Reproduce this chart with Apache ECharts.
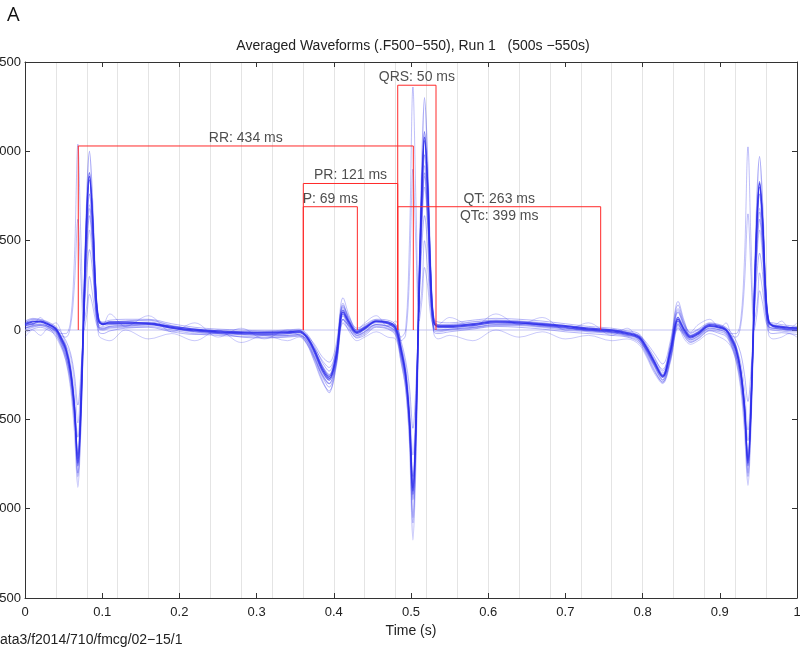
<!DOCTYPE html>
<html><head><meta charset="utf-8">
<script src="https://cdn.jsdelivr.net/npm/echarts@6/dist/echarts.min.js"></script>
<style>html,body{margin:0;padding:0;background:#fff}#c{width:800px;height:648px}</style>
</head><body><div id="c"></div>
<script>
// time samples (s)
const tKey = [
  0, 0.01, 0.02, 0.03, 0.04,
  0.046, 0.053, 0.059, 0.064, 0.0685, 0.0725, 0.0765, 0.0805, 0.0835, 0.0875, 0.0915, 0.0955, 0.101,
  0.11, 0.13, 0.16, 0.19, 0.22, 0.25, 0.28, 0.31, 0.34, 0.355,
  0.365, 0.375, 0.385, 0.394, 0.403, 0.412, 0.42, 0.43, 0.44, 0.455, 0.47,
  0.48, 0.487, 0.493, 0.498, 0.5025, 0.5065, 0.5105, 0.5145, 0.5175, 0.5215, 0.5255, 0.5295, 0.535,
  0.55, 0.58, 0.61, 0.64, 0.67, 0.70, 0.73, 0.76, 0.78,
  0.795, 0.805, 0.815, 0.826, 0.836, 0.846, 0.854, 0.862, 0.872, 0.887, 0.90, 0.908,
  0.914, 0.921, 0.927, 0.932, 0.9365, 0.9405, 0.9445, 0.9485, 0.9515, 0.9555, 0.9595, 0.9635, 0.969,
  0.98, 0.99, 1.0
];
// channel waveforms (fT)
const M1 = [
  30, 45, 50, 35, 5,
  -40, -110, -230, -430, -745, -420, 180, 700, 860, 620, 220, 50, 35,
  40, 40, 40, 15, 0, -10, -15, -18, -15, -10,
  -40, -120, -220, -270, -150, 100, 40, -15, 10, 50, 40,
  10, -110, -250, -500, -900, -500, 250, 850, 1080, 800, 300, 40, 20,
  20, 30, 45, 40, 30, 20, 5, -5, -20,
  -40, -100, -180, -260, -120, 60, 0, -40, -20, 25, 15, 0,
  -40, -110, -230, -430, -745, -420, 160, 650, 820, 600, 200, 40, 25,
  15, 10, 10
];
const M2 = [
  10, 25, 30, 20, -10,
  -60, -140, -270, -480, -700, -380, 150, 600, 760, 560, 180, 20, 10,
  20, 25, 30, 10, -10, -20, -25, -30, -30, -25,
  -60, -150, -250, -300, -180, 60, 20, -30, -10, 30, 20,
  -10, -140, -280, -540, -950, -560, 200, 760, 980, 720, 240, 10, 0,
  5, 15, 30, 30, 20, 10, -5, -15, -30,
  -50, -120, -200, -280, -150, 30, -20, -55, -35, 10, 0, -15,
  -60, -140, -270, -480, -720, -400, 120, 600, 760, 540, 170, 20, 10,
  5, 0, 0
];
const M3 = [
  40, 60, 55, 40, 10,
  -30, -90, -200, -400, -820, -500, 200, 800, 1000, 720, 260, 60, 40,
  45, 50, 55, 25, 5, -5, -10, -15, -10, -5,
  -30, -110, -200, -250, -130, 130, 60, -5, 20, 55, 45,
  20, -90, -230, -520, -1050, -600, 300, 1000, 1300, 950, 350, 60, 30,
  30, 45, 55, 50, 40, 25, 10, 0, -15,
  -30, -90, -170, -250, -100, 100, 20, -30, -10, 35, 25, 5,
  -30, -90, -220, -420, -800, -480, 200, 780, 970, 700, 240, 50, 30,
  20, 15, 15
];
const M4 = [
  0, 15, 25, 10, -20,
  -70, -170, -320, -560, -880, -520, 100, 560, 700, 500, 150, 10, 0,
  10, 15, 20, 0, -20, -30, -35, -40, -35, -30,
  -70, -170, -280, -350, -200, 40, 0, -40, -20, 20, 10,
  -20, -170, -320, -620, -1175, -700, 150, 650, 860, 620, 200, 0, -10,
  0, 10, 25, 25, 15, 0, -10, -20, -35,
  -60, -130, -220, -295, -170, 10, -30, -65, -45, 0, -10, -25,
  -70, -170, -320, -560, -870, -520, 80, 540, 680, 480, 140, 10, 0,
  -5, -10, -10
];
const M5 = [
  25, 35, 45, 30, 0,
  -50, -120, -240, -450, -760, -460, 120, 660, 840, 640, 240, 60, 30,
  35, 35, 35, 10, -5, -15, -20, -25, -20, -15,
  -45, -130, -230, -280, -160, 90, 30, -20, 5, 45, 35,
  0, -120, -260, -520, -920, -540, 220, 820, 1060, 820, 320, 50, 15,
  15, 25, 40, 38, 28, 15, 0, -10, -25,
  -45, -110, -190, -265, -130, 50, -10, -45, -25, 20, 10, -5,
  -50, -120, -240, -450, -760, -440, 140, 630, 800, 610, 220, 45, 20,
  10, 5, 5
];
const M6 = [
  35, 50, 45, 30, 10,
  -35, -100, -220, -420, -720, -400, 200, 720, 880, 650, 230, 50, 30,
  45, 45, 35, 20, 5, -5, -10, -12, -10, -5,
  -35, -110, -210, -260, -140, 110, 45, -10, 15, 50, 45,
  15, -100, -240, -480, -880, -480, 280, 880, 1110, 830, 310, 50, 25,
  25, 35, 50, 45, 35, 25, 10, 0, -15,
  -35, -95, -175, -255, -115, 70, 5, -35, -15, 30, 20, 5,
  -35, -100, -220, -420, -730, -400, 180, 670, 830, 620, 210, 45, 25,
  20, 15, 10
];
const I1 = [
  20, 30, 35, 20, 0,
  -20, -20, 50, 400, 1040, 500, 50, 150, 300, 200, 80, 30, 20,
  30, 35, 45, 20, 0, -10, -15, -10, -5, 0,
  -30, -80, -150, -180, -80, 180, 80, 0, 15, 40, 35,
  30, -40, 0, 500, 1360, 700, 100, 250, 500, 350, 120, 40, 20,
  25, 35, 50, 45, 35, 20, 5, 0, -10,
  -30, -70, -130, -190, -60, 160, 50, -20, 0, 30, 25, 10,
  -20, -20, 50, 400, 1025, 480, 50, 150, 320, 220, 80, 30, 20,
  15, 10, 10
];
const I2 = [
  10, 20, 25, 15, -5,
  -30, -40, 20, 250, 620, 280, 0, 100, 200, 140, 50, 10, 5,
  15, 20, 30, 10, -5, -15, -20, -15, -10, -5,
  -40, -100, -170, -210, -110, 150, 50, -10, 5, 30, 25,
  15, -60, -30, 300, 900, 450, 50, 180, 350, 250, 80, 20, 10,
  15, 25, 40, 35, 25, 10, 0, -10, -20,
  -40, -90, -160, -220, -90, 120, 30, -30, -10, 20, 15, 0,
  -30, -40, 20, 260, 650, 300, 0, 100, 220, 150, 50, 15, 10,
  5, 0, 0
];
const S1 = [
  50, 65, 60, 45, 20,
  -10, -60, -130, -250, -420, -230, 80, 350, 450, 330, 120, 50, 45,
  55, 60, 60, 35, 15, 5, 0, -5, 0, 5,
  -20, -90, -180, -230, -110, 140, 70, 10, 30, 60, 55,
  30, -60, -170, -320, -550, -300, 150, 500, 640, 470, 170, 60, 45,
  40, 55, 65, 60, 50, 35, 20, 10, -5,
  -20, -80, -150, -230, -80, 140, 40, -15, 5, 40, 30, 15,
  -10, -60, -130, -250, -400, -220, 70, 330, 430, 310, 110, 45, 40,
  30, 25, 20
];
const S2 = [
  -15, 5, 15, 0, -30,
  -80, -150, -260, -420, -600, -330, 90, 480, 640, 460, 140, -10, -20,
  -5, 10, 15, -10, -25, -20, -40, -45, -40, -35,
  -75, -160, -260, -320, -190, 80, 10, -45, -30, 15, 5,
  -30, -150, -290, -480, -820, -450, 180, 680, 880, 650, 220, -10, -20,
  -10, 5, 20, 15, 5, -10, -20, -30, -40,
  -70, -140, -230, -290, -160, 40, -35, -70, -50, -5, -20, -35,
  -80, -150, -260, -420, -620, -340, 80, 470, 620, 450, 130, -10, -20,
  -15, -20, -25
];
const N1 = [
  60, 30, 70, 20, 40,
  0, -80, -150, -300, -520, -260, 120, 420, 560, 400, 150, 70, 30,
  90, 20, 80, -10, 40, -40, 10, -50, 0, -30,
  -50, -110, -200, -260, -140, 120, 50, 0, 40, 80, 20,
  50, -80, -200, -400, -700, -380, 180, 620, 800, 600, 200, 80, 30,
  70, 20, 90, 30, 70, 0, 40, -30, 10,
  -60, -110, -170, -240, -100, 110, 30, -10, 30, 60, 10, 40,
  -20, -90, -180, -330, -560, -300, 100, 430, 560, 400, 140, 60, 20,
  50, 10, 40
];
const N2 = [
  -40, 0, -30, 10, -40,
  -90, -170, -300, -500, -800, -450, 60, 520, 680, 480, 120, -30, -50,
  -60, 0, -50, -20, -60, 0, -70, -30, -60, -40,
  -80, -180, -290, -340, -210, 60, -10, -60, -40, -10, -40,
  -50, -180, -330, -600, -1080, -640, 120, 700, 920, 660, 200, -20, -50,
  -30, -60, 0, -40, -10, -50, -30, -60, -50,
  -80, -150, -240, -300, -180, 20, -50, -80, -60, -20, -40, -60,
  -90, -170, -300, -500, -820, -460, 60, 500, 660, 470, 110, -30, -50,
  -40, -20, -40
];
const traces = [M1, M2, M3, M4, M5, M6, I1, I2, S1, S2, N1, N2];
const traceAlpha = [0.85, 0.5, 0.4, 0.3, 0.7, 0.7, 0.3, 0.3, 0.35, 0.35, 0.25, 0.25];

// interval annotations
const annNames  = ['RR: 434 ms', 'PR: 121 ms', 'P: 69 ms', 'QRS: 50 ms', 'QT: 263 ms'];
const annStart  = [0.069, 0.3605, 0.3605, 0.4828, 0.4828];
const annEnd    = [0.503, 0.4828, 0.4305, 0.5324, 0.7457];
const annTop    = [1030, 820, 690, 1370, 690];
const qtcLabel  = 'QTc: 399 ms';

const xTicks = [0, 0.1, 0.2, 0.3, 0.4, 0.5, 0.6, 0.7, 0.8, 0.9, 1];
const yTicks = [-1500, -1000, -500, 0, 500, 1000, 1500];

const FONT = 'Liberation Sans';
const series = [];
traces.forEach((arr, i) => {
  series.push({
    type: 'line', xAxisIndex: 0, yAxisIndex: 0, smooth: 0.35, symbol: 'none', silent: true,
    data: tKey.map((t, k) => [t, arr[k]]),
    lineStyle: { color: 'rgba(45,45,235,' + traceAlpha[i] + ')', width: i < 6 ? 1.3 : 1 },
    z: 3
  });
});
// baseline
series.push({
  type: 'line', data: [[0, 0], [1, 0]], symbol: 'none', silent: true,
  lineStyle: { color: '#c4c4f2', width: 1 }, z: 2
});
annNames.forEach((nm, i) => {
  series.push({
    type: 'line', symbol: 'none', silent: true,
    data: [[annStart[i], 0], [annStart[i], annTop[i]], [annEnd[i], annTop[i]], [annEnd[i], 0]],
    lineStyle: { color: '#ff2a2a', width: 1 }, z: 5
  });
});
series.push({
  type: 'scatter', symbolSize: 0, silent: true, z: 6,
  data: annNames.map((nm, i) => ({ value: [(annStart[i] + annEnd[i]) / 2, annTop[i]], name: nm })),
  label: { show: true, position: 'top', distance: 1, formatter: p => p.name, color: '#222', fontSize: 14, fontFamily: FONT }
});
series.push({
  type: 'scatter', symbolSize: 0, silent: true, z: 6,
  data: [{ value: [(annStart[4] + annEnd[4]) / 2, annTop[4]], name: qtcLabel }],
  label: { show: true, position: 'bottom', distance: 2, formatter: p => p.name, color: '#222', fontSize: 14, fontFamily: FONT }
});

const axisLineStyle = { color: '#333', width: 1 };
const option = {
  animation: false,
  backgroundColor: '#fff',
  grid: { left: 25, right: 3, top: 62, bottom: 50, containLabel: false, outerBoundsMode: 'none' },
  xAxis: [
    { type: 'value', min: 0, max: 1, interval: 0.1, position: 'bottom',
      name: 'Time (s)', nameLocation: 'middle', nameGap: 22,
      nameTextStyle: { color: '#222', fontSize: 14, fontFamily: FONT },
      axisLine: { show: true, onZero: false, lineStyle: axisLineStyle },
      axisTick: { show: true, inside: true, length: 5, lineStyle: axisLineStyle },
      axisLabel: { color: '#222', fontSize: 13, fontFamily: FONT, margin: 8,
        formatter: v => xTicks.includes(Math.round(v * 10) / 10) ? String(Math.round(v * 10) / 10) : '' },
      splitLine: { show: false } },
    { type: 'value', min: 0, max: 1, interval: 0.1, position: 'top',
      axisLine: { show: true, onZero: false, lineStyle: axisLineStyle },
      axisTick: { show: true, inside: true, length: 5, lineStyle: axisLineStyle },
      axisLabel: { show: false }, splitLine: { show: false } },
    { type: 'value', min: 0, max: 1, interval: 0.04, position: 'bottom',
      axisLine: { show: false, onZero: false }, axisTick: { show: false }, axisLabel: { show: false },
      splitLine: { show: true, lineStyle: { color: '#e4e4e4', width: 1 } } }
  ],
  yAxis: [
    { type: 'value', min: -1500, max: 1500, interval: 500, position: 'left',
      axisLine: { show: true, onZero: false, lineStyle: axisLineStyle },
      axisTick: { show: true, inside: true, length: 5, lineStyle: axisLineStyle },
      axisLabel: { color: '#222', fontSize: 13, fontFamily: FONT, margin: 4,
        formatter: v => yTicks.includes(v) ? String(v) : '' },
      splitLine: { show: false } },
    { type: 'value', min: -1500, max: 1500, interval: 500, position: 'right',
      axisLine: { show: true, onZero: false, lineStyle: axisLineStyle },
      axisTick: { show: true, inside: true, length: 5, lineStyle: axisLineStyle },
      axisLabel: { show: false }, splitLine: { show: false } }
  ],
  graphic: [
    { type: 'text', left: 7, top: 5, style: { text: 'A', fontSize: 20, fontFamily: 'Open Sans', fill: '#111' } },
    { type: 'text', x: 413, y: 46, style: { text: 'Averaged Waveforms (.F500\u2212550), Run 1   (500s \u2212550s)', fontSize: 14, fontFamily: FONT, fill: '#222', textAlign: 'center', textVerticalAlign: 'middle' } },
    { type: 'text', x: 0, y: 640, style: { text: 'ata3/f2014/710/fmcg/02\u221215/1', fontSize: 14, fontFamily: FONT, fill: '#222', textAlign: 'left', textVerticalAlign: 'middle' } }
  ],
  series: series
};
const chart = echarts.init(document.getElementById('c'), null, { renderer: 'canvas' });
chart.setOption(option);
</script>
</body></html>
